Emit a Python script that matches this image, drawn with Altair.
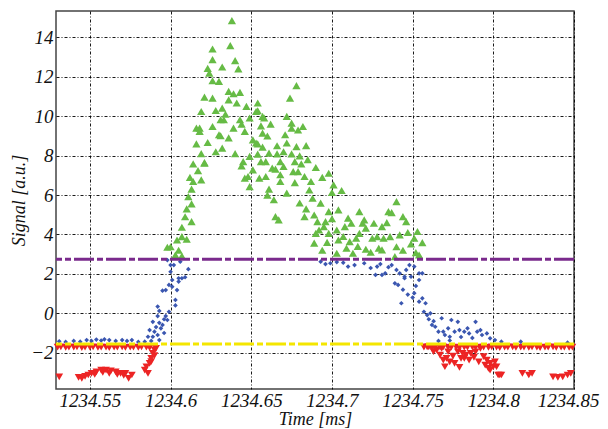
import altair as alt
import pandas as pd

# ---- data (time [ms], signal [a.u.]) ----
green = [
    (1234.638, 14.85), (1234.626, 13.41), (1234.637, 13.58), (1234.626, 12.87), (1234.640, 12.82),
    (1234.632, 12.50), (1234.623, 12.43), (1234.642, 12.40), (1234.624, 12.19), (1234.626, 11.80),
    (1234.630, 11.77), (1234.636, 11.26), (1234.643, 11.21), (1234.621, 10.97), (1234.639, 11.14),
    (1234.626, 10.92), (1234.636, 10.83), (1234.654, 10.67), (1234.619, 10.24), (1234.628, 10.29),
    (1234.632, 10.41), (1234.653, 10.24), (1234.618, 9.40), (1234.626, 9.48), (1234.633, 9.82),
    (1234.643, 9.82), (1234.649, 9.91), (1234.658, 9.91), (1234.678, 11.55), (1234.674, 10.92),
    (1234.641, 10.67), (1234.654, 10.28), (1234.631, 9.82), (1234.657, 9.99), (1234.672, 9.99),
    (1234.675, 9.65), (1234.682, 9.48), (1234.616, 9.40), (1234.639, 9.40), (1234.646, 9.23),
    (1234.656, 9.51), (1234.630, 9.06), (1234.651, 8.80), (1234.616, 8.60), (1234.623, 8.67),
    (1234.654, 8.60), (1234.657, 8.43), (1234.671, 9.06), (1234.672, 8.64), (1234.678, 8.46),
    (1234.684, 8.51), (1234.632, 8.38), (1234.614, 7.58), (1234.621, 7.62), (1234.645, 7.70),
    (1234.654, 8.08), (1234.661, 8.13), (1234.666, 8.09), (1234.675, 8.09), (1234.680, 7.99),
    (1234.617, 7.24), (1234.656, 7.70), (1234.663, 7.37), (1234.670, 7.45), (1234.677, 7.70),
    (1234.681, 7.58), (1234.644, 7.48), (1234.668, 7.03), (1234.683, 6.94), (1234.687, 6.69),
    (1234.679, 7.19), (1234.698, 7.11), (1234.614, 6.69), (1234.619, 6.77), (1234.648, 6.94),
    (1234.655, 6.86), (1234.659, 6.94), (1234.649, 6.43), (1234.661, 6.30), (1234.668, 6.69),
    (1234.677, 6.63), (1234.613, 6.30), (1234.701, 6.52), (1234.706, 6.23), (1234.700, 6.13),
    (1234.611, 5.92), (1234.618, 9.23), (1234.631, 9.01), (1234.621, 7.65), (1234.613, 5.55),
    (1234.610, 5.30), (1234.613, 4.65), (1234.607, 4.37), (1234.607, 3.89), (1234.604, 3.72),
    (1234.610, 3.76), (1234.600, 3.38), (1234.598, 3.35), (1234.607, 2.91), (1234.603, 2.96),
    (1234.653, 8.64), (1234.649, 7.96), (1234.646, 6.86), (1234.651, 7.28), (1234.657, 9.14),
    (1234.659, 7.70), (1234.668, 7.70), (1234.665, 7.32), (1234.676, 7.19), (1234.686, 6.26),
    (1234.664, 5.76), (1234.688, 5.84), (1234.693, 5.59), (1234.704, 5.25), (1234.698, 5.16),
    (1234.710, 4.83), (1234.717, 5.16), (1234.665, 4.91), (1234.667, 4.74), (1234.683, 4.91),
    (1234.689, 4.99), (1234.691, 4.65), (1234.696, 4.65), (1234.690, 4.06), (1234.692, 4.23),
    (1234.698, 4.06), (1234.703, 4.23), (1234.712, 4.57), (1234.719, 4.57), (1234.717, 4.06),
    (1234.721, 4.32), (1234.689, 3.56), (1234.704, 3.72), (1234.711, 3.64), (1234.715, 3.81),
    (1234.703, 3.05), (1234.713, 3.05), (1234.721, 3.25), (1234.740, 5.67), (1234.735, 5.16),
    (1234.737, 5.11), (1234.744, 4.91), (1234.746, 4.65), (1234.720, 4.74), (1234.726, 4.57),
    (1234.725, 3.81), (1234.728, 3.89), (1234.732, 3.81), (1234.736, 3.89), (1234.742, 3.98),
    (1234.753, 4.15), (1234.751, 3.81), (1234.756, 3.59), (1234.749, 3.52), (1234.729, 3.30),
    (1234.740, 3.38), (1234.752, 3.08), (1234.754, 2.96), (1234.739, 2.88), (1234.731, 4.40),
    (1234.731, 3.22),
    (1234.675, 9.40), (1234.679, 9.30), (1234.660, 9.00), (1234.666, 8.50), (1234.670, 8.20),
    (1234.685, 7.80), (1234.690, 7.40), (1234.694, 6.90), (1234.660, 6.00), (1234.672, 6.10),
    (1234.680, 5.60), (1234.684, 5.30), (1234.695, 4.40), (1234.700, 4.80), (1234.708, 4.40),
    (1234.707, 3.90), (1234.697, 3.60), (1234.694, 3.20), (1234.709, 3.30), (1234.716, 3.40),
    (1234.724, 3.10), (1234.744, 3.20), (1234.747, 4.10), (1234.734, 4.60), (1234.640, 8.10),
    (1234.636, 8.90), (1234.628, 8.20), (1234.619, 8.10), (1234.612, 6.90), (1234.609, 4.90),
    (1234.605, 3.20), (1234.634, 10.10), (1234.647, 10.50), (1234.644, 9.60), (1234.662, 9.60),
]

blue = [
    (1234.531, -1.42), (1234.535, -1.45), (1234.540, -1.40), (1234.544, -1.44), (1234.548, -1.36),
    (1234.551, -1.40), (1234.554, -1.33), (1234.557, -1.38), (1234.559, -1.32), (1234.562, -1.36),
    (1234.566, -1.40), (1234.570, -1.36), (1234.573, -1.40), (1234.576, -1.36), (1234.580, -1.45),
    (1234.584, -1.44), (1234.586, -1.19), (1234.589, -1.19), (1234.587, -0.85), (1234.590, -0.93),
    (1234.592, -1.10), (1234.593, -1.36), (1234.594, -0.76), (1234.595, -0.59), (1234.593, -0.48),
    (1234.589, -0.43), (1234.592, -0.14), (1234.592, 0.34), (1234.593, 0.12), (1234.597, -0.14),
    (1234.598, -0.34), (1234.596, -0.30), (1234.599, 0.08), (1234.597, 1.18), (1234.599, 1.44),
    (1234.601, 1.35), (1234.603, 0.68), (1234.604, 1.18), (1234.605, 1.61), (1234.605, 1.78),
    (1234.609, 1.83), (1234.611, 2.24), (1234.600, 2.11), (1234.600, 2.45), (1234.598, 2.70),
    (1234.606, 2.62), (1234.595, 1.15), (1234.601, 1.69), (1234.602, 2.45), (1234.607, 1.78),
    (1234.603, 0.40), (1234.591, -0.70), (1234.596, -1.00), (1234.588, -1.40),
    (1234.693, 2.62), (1234.699, 2.54), (1234.707, 2.57), (1234.710, 2.37), (1234.720, 2.54),
    (1234.728, 2.37), (1234.735, 2.34), (1234.737, 2.45), (1234.727, 1.95), (1234.731, 1.95),
    (1234.733, 2.03), (1234.740, 2.20), (1234.742, 2.03), (1234.746, 2.20), (1234.745, 1.86),
    (1234.751, 2.37), (1234.754, 2.03), (1234.739, 1.52), (1234.741, 1.44), (1234.745, 1.78),
    (1234.743, 0.51), (1234.749, 1.86), (1234.751, 1.02), (1234.752, 1.39), (1234.754, 1.69),
    (1234.754, 0.59), (1234.756, 0.76), (1234.756, 2.03), (1234.758, 0.51), (1234.757, 0.08),
    (1234.759, -0.09), (1234.761, 0.00), (1234.762, -0.59), (1234.764, -0.68), (1234.768, -0.25),
    (1234.766, -0.93), (1234.769, -0.93), (1234.770, -1.10), (1234.772, -0.76), (1234.774, -0.34),
    (1234.773, -1.19), (1234.776, -0.93), (1234.778, -0.43), (1234.779, -0.85), (1234.782, -0.93),
    (1234.784, -0.76), (1234.785, -1.02), (1234.789, -0.43), (1234.790, -0.93), (1234.792, -0.85),
    (1234.793, -1.10), (1234.796, -1.02), (1234.798, -1.27), (1234.801, -1.36), (1234.805, -1.44),
    (1234.817, -1.44), (1234.846, -1.49), (1234.766, -1.40), (1234.773, -1.38), (1234.780, -1.20),
    (1234.787, -1.25), (1234.760, -0.30), (1234.763, -0.40),
    (1234.714, 2.45), (1234.724, 2.30), (1234.730, 2.50), (1234.748, 2.45), (1234.744, 1.20),
    (1234.750, 0.80), (1234.747, 0.95), (1234.703, 2.60), (1234.696, 2.50),
]

red = [
    (1234.531, -3.22), (1234.543, -3.25), (1234.545, -3.30), (1234.549, -3.13), (1234.551, -3.05),
    (1234.554, -2.97), (1234.557, -2.88), (1234.560, -2.88), (1234.563, -2.92), (1234.566, -2.97),
    (1234.569, -3.05), (1234.572, -3.05), (1234.574, -3.30), (1234.576, -3.13), (1234.547, -3.20),
    (1234.553, -3.10), (1234.558, -3.00), (1234.562, -3.05), (1234.567, -3.10), (1234.571, -3.15),
    (1234.584, -2.88), (1234.585, -2.71), (1234.586, -3.05), (1234.587, -2.54), (1234.588, -2.29),
    (1234.589, -2.03), (1234.590, -1.86), (1234.591, -1.78), (1234.588, -2.45), (1234.590, -2.15),
    (1234.762, -1.78), (1234.765, -1.86), (1234.768, -1.78), (1234.767, -2.12), (1234.769, -2.37),
    (1234.771, -2.29), (1234.773, -2.46), (1234.775, -2.17), (1234.776, -2.54), (1234.779, -2.74),
    (1234.772, -1.95), (1234.778, -1.95), (1234.781, -2.03), (1234.782, -2.29), (1234.783, -2.12),
    (1234.785, -2.37), (1234.786, -2.03), (1234.788, -2.24), (1234.789, -1.95), (1234.791, -2.46),
    (1234.792, -1.78), (1234.794, -2.20), (1234.795, -2.63), (1234.796, -2.37), (1234.797, -2.79),
    (1234.798, -2.54), (1234.800, -2.71), (1234.801, -2.46), (1234.802, -2.71), (1234.803, -3.13),
    (1234.805, -3.13), (1234.780, -2.29), (1234.763, -1.95), (1234.760, -1.70), (1234.770, -2.71),
    (1234.798, -2.88), (1234.804, -3.13), (1234.818, -3.05), (1234.822, -3.13), (1234.824, -3.05),
    (1234.837, -3.22), (1234.840, -3.25), (1234.843, -3.22), (1234.846, -3.13), (1234.848, -3.05),
]

# dense rows of red markers sitting just under the yellow level
red_row = [
    (1234.530, -1.72), (1234.532, -1.70), (1234.535, -1.73), (1234.537, -1.71), (1234.540, -1.72),
    (1234.542, -1.70), (1234.545, -1.74), (1234.547, -1.71), (1234.550, -1.72), (1234.552, -1.70),
    (1234.555, -1.73), (1234.557, -1.71), (1234.560, -1.72), (1234.562, -1.74), (1234.565, -1.71),
    (1234.567, -1.72), (1234.570, -1.70), (1234.572, -1.73), (1234.575, -1.72), (1234.577, -1.71),
    (1234.580, -1.73), (1234.582, -1.70), (1234.585, -1.72), (1234.587, -1.74),
    (1234.757, -1.72), (1234.759, -1.70), (1234.762, -1.73), (1234.764, -1.71), (1234.767, -1.72),
    (1234.769, -1.70), (1234.772, -1.73), (1234.774, -1.71), (1234.777, -1.72), (1234.779, -1.74),
    (1234.782, -1.71), (1234.784, -1.72), (1234.787, -1.70), (1234.789, -1.73), (1234.792, -1.72),
    (1234.794, -1.71), (1234.797, -1.73), (1234.799, -1.70), (1234.802, -1.72), (1234.804, -1.74),
    (1234.807, -1.71), (1234.809, -1.72), (1234.812, -1.70), (1234.814, -1.73), (1234.817, -1.72),
    (1234.819, -1.71), (1234.822, -1.73), (1234.824, -1.70), (1234.827, -1.72), (1234.829, -1.74),
    (1234.832, -1.71), (1234.834, -1.72), (1234.837, -1.70), (1234.839, -1.73), (1234.842, -1.72),
    (1234.844, -1.71), (1234.847, -1.73), (1234.849, -1.72),
]

upper_level = [2.74]
lower_level = [-1.56]

x_ticks = [1234.55, 1234.6, 1234.65, 1234.7, 1234.75, 1234.8, 1234.85]
y_ticks = [-2, 0, 2, 4, 6, 8, 10, 12, 14]
x_domain = [1234.529, 1234.85]
y_domain = [-3.84, 15.34]

# ---- chart ----
df_g = pd.DataFrame(green, columns=["t", "s"])
df_b = pd.DataFrame(blue, columns=["t", "s"])
df_r = pd.DataFrame(red + red_row, columns=["t", "s"])
df_up = pd.DataFrame({"s": upper_level})
df_lo = pd.DataFrame({"s": lower_level})

xsc = alt.Scale(domain=x_domain, nice=False, zero=False)
ysc = alt.Scale(domain=y_domain, nice=False, zero=False)

FONT = "Liberation Serif"
common_axis = dict(
    grid=True, gridColor="#000", gridDash=[3, 2, 1, 2], gridWidth=1, gridOpacity=0.9,
    domain=False, ticks=False,
    labelFont=FONT, labelFontStyle="italic", labelFontSize=19, labelColor="#111",
    titleFont=FONT, titleFontStyle="italic", titleFontWeight="normal", titleFontSize=18,
    titleColor="#111",
)
xax = alt.Axis(values=x_ticks, format=".2~f", title="Time [ms]", labelPadding=2,
               titleY=35, titleBaseline="alphabetic", labelFlush=False,
               labelOffset={"condition": {"test": "datum.value > 1234.84", "value": -6}, "value": 0},
               **common_axis)
yax = alt.Axis(values=y_ticks, format="d", title="Signal [a.u.]", labelPadding=3,
               titleX=-37, titleBaseline="middle", **common_axis)

X = alt.X("t:Q", scale=xsc, axis=xax)
Y = alt.Y("s:Q", scale=ysc, axis=yax)

red_layer = alt.Chart(df_r).mark_point(
    shape="triangle-down", filled=True, size=60, color="#ec2424", opacity=1
).encode(x=X, y=Y)

blue_layer = alt.Chart(df_b).mark_point(
    shape="diamond", filled=True, size=22, color="#3a56b0", opacity=1
).encode(x=X, y=Y)

green_layer = alt.Chart(df_g).mark_point(
    shape="triangle-up", filled=True, size=68, color="#66bb45", opacity=1
).encode(x=X, y=Y)

purple_line = alt.Chart(df_up).mark_rule(
    color="#7a2a8c", strokeWidth=3, strokeDash=[20, 3, 6, 3]
).encode(y=Y)

yellow_line = alt.Chart(df_lo).mark_rule(
    color="#f4e600", strokeWidth=3, strokeDash=[20, 3, 6, 3]
).encode(y=Y)

chart = alt.layer(red_layer, blue_layer, green_layer, purple_line, yellow_line).properties(
    width=518, height=378,
    autosize=alt.AutoSizeParams(type="none"),
    padding={"left": 48, "top": 3, "right": 26, "bottom": 40},
).configure_view(stroke="#444", strokeWidth=1.5)

chart.save("out.html", embed_options={"renderer": "svg", "actions": False})
